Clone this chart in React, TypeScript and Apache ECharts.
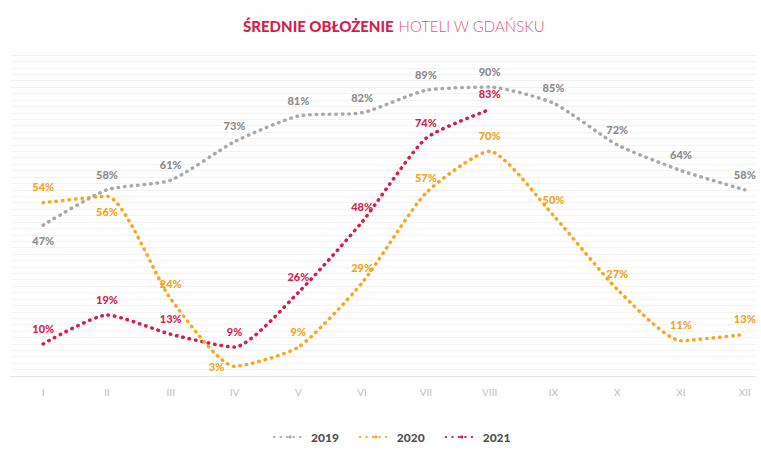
import React, { useEffect, useRef } from "react";
import * as echarts from "echarts";

const months = ["I", "II", "III", "IV", "V", "VI", "VII", "VIII", "IX", "X", "XI", "XII"];
const seriesNames = ["2019", "2020", "2021"];
const values2019 = [47, 58, 61, 73, 81, 82, 89, 90, 85, 72, 64, 58];
const values2020 = [54, 56, 24, 3, 9, 29, 57, 70, 50, 27, 11, 13];
const values2021 = [10, 19, 13, 9, 26, 48, 74, 83];
const colors = ["#a9a9a9", "#f7a823", "#d41f4d"];
const labelColors = ["#8c8c8c", "#f5a21c", "#d41f4d"];

const pos2019 = ["bottom", "top", "top", "top", "top", "top", "top", "top", "top", "top", "top", "top"];
const pos2020 = ["top", "bottom", "top", "left", "top", "top", "top", "top", "top", "top", "top", "top"];

function build(vals: number[], positions?: string[]) {
  return vals.map((v, i) => ({
    value: [i + 1, v],
    label: { position: positions ? positions[i] : "top" },
  }));
}

export default function App() {
  const ref = useRef<HTMLDivElement>(null);
  useEffect(() => {
    if (!ref.current) return;
    const chart = echarts.init(ref.current, undefined, { renderer: "svg" });
    const dataSets = [build(values2019, pos2019), build(values2020, pos2020), build(values2021)];
    chart.setOption({
      animation: false,
      backgroundColor: "#ffffff",
      title: {
        left: 238,
        top: 12,
        text: "{b|ŚREDNIE OBŁOŻENIE} {n|HOTELI W GDAŃSKU}",
        textStyle: {
          rich: {
            b: { fontFamily: "Lato", fontWeight: 900, fontSize: 15, color: "#d41f4d" },
            n: { fontFamily: "Lato", fontWeight: 300, fontSize: 15, color: "#e0567a" },
          },
        },
      },
      legend: {
        bottom: 2,
        left: 268,
        itemWidth: 32,
        itemHeight: 4,
        itemGap: 20,
        data: seriesNames,
        textStyle: { fontFamily: "Lato", fontWeight: 900, fontSize: 12, color: "#505050" },
      },
      grid: { left: 10, right: 6, top: 55, bottom: 74 },
      xAxis: {
        type: "value",
        min: 0.48,
        max: 12.16,
        splitLine: { show: false },
        axisLine: { show: true, lineStyle: { color: "#e6e6e6", width: 1 } },
        axisTick: { show: false },
        axisLabel: {
          customValues: months.map((_, i) => i + 1),
          formatter: (v: number) => months[Math.round(v) - 1] ?? "",
          color: "#bdbdbd",
          fontFamily: "Lato",
          fontSize: 10,
          margin: 11,
        },
      },
      yAxis: {
        type: "value",
        min: 0,
        max: 100,
        interval: 2,
        axisLabel: { show: false },
        axisLine: { show: false },
        axisTick: { show: false },
        splitLine: { show: true, lineStyle: { color: "#f3f3f3", width: 1 } },
      },
      series: seriesNames.map((name, k) => ({
        name,
        type: "line",
        smooth: 0.2,
        symbol: "circle",
        symbolSize: 0.5,
        showSymbol: true,
        data: dataSets[k],
        color: colors[k],
        lineStyle: { color: colors[k], width: 3.5, type: [0.5, 6], cap: "round" },
        itemStyle: { color: colors[k] },
        label: {
          show: true,
          formatter: (p: any) => p.value[1] + "%",
          color: labelColors[k],
          fontFamily: "Lato",
          fontWeight: 900,
          fontSize: 11,
          distance: 10,
        },
        z: 3 - k,
      })),
    });
    return () => chart.dispose();
  }, []);
  return <div ref={ref} style={{ width: 761, height: 450, position: "absolute", left: 0, top: 0 }} />;
}
